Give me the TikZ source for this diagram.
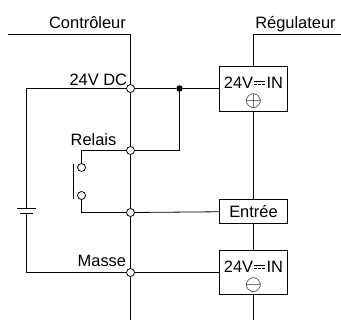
\documentclass[tikz,border=0pt]{standalone}
\usepackage{fontspec}
\usepackage{graphicx}
\setmainfont{Liberation Sans}
\newcommand{\dcsym}{\hspace{1pt}\rlap{\rule[7pt]{11pt}{0.7pt}}\rule[4pt]{3pt}{0.7pt}\hspace{1pt}\rule[4pt]{3pt}{0.7pt}\hspace{1pt}\rule[4pt]{3pt}{0.7pt}\hspace{1.5pt}}
\newcommand{\pol}[1]{\scalebox{1.25}{$#1$}}

\begin{document}
\begin{tikzpicture}[x=1bp,y=-1bp,line width=0.8bp,font=\fontsize{16.5}{19}\selectfont,
  term/.style={circle,draw,fill=white,inner sep=0pt,minimum size=8bp},
  jdot/.style={circle,fill=black,inner sep=0pt,minimum size=6.5bp},
  unit/.style={draw,fill=white,minimum width=68bp,align=center,inner sep=1pt},
  lbl/.style={inner sep=0pt}]
\useasboundingbox (-0.5,-0.5) rectangle (340.5,319.5);
\coordinate (CL) at (7,34);
\coordinate (CT) at (130,34);
\coordinate (CB) at (130,320);
\coordinate (RT) at (253,34);
\coordinate (RR) at (341,34);
\coordinate (RB) at (253,320);
\coordinate (B1) at (26,208);
\coordinate (B2) at (26,213);
\coordinate (S1) at (73,163);
\coordinate (S2) at (73,198);
\node[term] (DC) at (130,88) {};
\node[term] (RL) at (130,150) {};
\node[term] (EN) at (130,212) {};
\node[term] (GND) at (130,272) {};
\node[jdot] (J) at (179,88) {};
\node[term] (K1) at (81,167) {};
\node[term] (K2) at (81,195) {};
\node[unit,minimum height=45bp] (P) at (253,88) {\rule{0pt}{20.1pt}24V\dcsym IN\\[-0.6pt]\pol{\oplus}};
\node[unit,minimum height=24bp] (E) at (253,211) {Entrée};
\node[unit,minimum height=44bp] (N) at (253,272) {\rule{0pt}{20.1pt}24V\dcsym IN\\[-0.6pt]\pol{\ominus}};
\draw (CL) -- (CT) -- (DC) -- (RL) -- (EN) -- (GND) -- (CB);
\draw (RR) -- (RT) -- (P) -- (E) -- (N) -- (RB);
\draw (DC) -- (J) -- (P);
\draw (J) |- (RL);
\draw (RL) -| (K1);
\draw (K2) |- (EN);
\draw (EN) -- (E);
\draw (GND) -- (N);
\draw (DC) -| (B1);
\draw (B2) |- (GND);
\draw ([xshift=-9bp]B1) -- ([xshift=9bp]B1);
\draw ([xshift=-6bp]B2) -- ([xshift=6bp]B2);
\draw (S1) -- (S2);
\node[lbl,anchor=base] (TC) at (87,28) {Contrôleur};
\node[lbl,anchor=base] (TR) at (295,28) {Régulateur};
\node[lbl,anchor=base east] (LDC) at (127,85) {24V DC};
\node[lbl,anchor=base] (LRL) at (93,145) {Relais};
\node[lbl,anchor=base east] (LM) at (126,266) {Masse};
\end{tikzpicture}
\end{document}
